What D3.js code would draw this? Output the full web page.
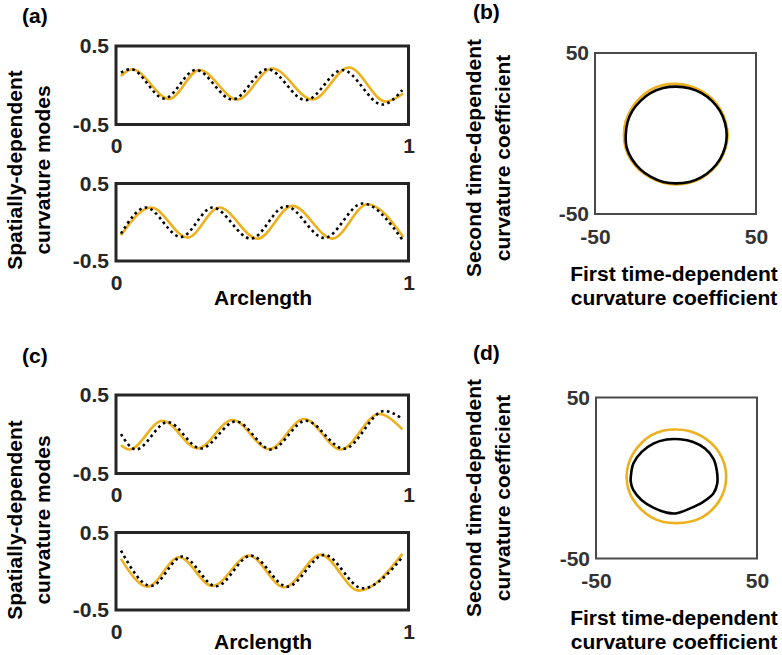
<!DOCTYPE html>
<html>
<head>
<meta charset="utf-8">
<script src="https://cdn.jsdelivr.net/npm/d3@7"></script>
<style>
  body { margin: 0; background: #fff; }
  svg { display: block; }
</style>
</head>
<body>
<script>
// ---- Spatial curvature modes (arclength vs. mode amplitude) ----
// Panel (a), first mode
const aMode1GoldArc = [0.017, 0.055, 0.182, 0.285, 0.415, 0.535, 0.672, 0.797, 0.922, 0.982];
const aMode1Gold    = [0.118, 0.204, -0.173, 0.195, -0.182, 0.213, -0.182, 0.226, -0.208, -0.105];
const aMode1DotArc  = [0.017, 0.051, 0.165, 0.273, 0.398, 0.518, 0.649, 0.774, 0.911, 0.979];
const aMode1Dot     = [0.162, 0.204, -0.169, 0.195, -0.182, 0.204, -0.191, 0.195, -0.246, -0.062];
// Panel (a), second mode
const aMode2GoldArc = [0.017, 0.120, 0.245, 0.353, 0.484, 0.603, 0.740, 0.860, 0.982];
const aMode2Gold    = [-0.168, 0.190, -0.198, 0.190, -0.211, 0.211, -0.211, 0.233, -0.190];
const aMode2DotArc  = [0.017, 0.102, 0.222, 0.330, 0.461, 0.581, 0.712, 0.843, 0.979];
const aMode2Dot     = [-0.147, 0.190, -0.190, 0.190, -0.211, 0.207, -0.203, 0.242, -0.225];
// Panel (c), first mode
const cMode1GoldArc = [0.017, 0.046, 0.159, 0.279, 0.398, 0.524, 0.643, 0.769, 0.899, 0.979];
const cMode1Gold    = [-0.139, -0.194, 0.172, -0.181, 0.181, -0.190, 0.194, -0.194, 0.258, 0.062];
const cMode1DotArc  = [0.017, 0.068, 0.176, 0.290, 0.410, 0.530, 0.649, 0.780, 0.917, 0.979];
const cMode1Dot     = [0.002, -0.194, 0.155, -0.181, 0.164, -0.194, 0.172, -0.185, 0.296, 0.198];
// Panel (c), second mode
const cMode2GoldArc = [0.017, 0.108, 0.216, 0.330, 0.455, 0.575, 0.700, 0.831, 0.979];
const cMode2Gold    = [0.160, -0.198, 0.181, -0.190, 0.202, -0.207, 0.211, -0.250, 0.224];
const cMode2DotArc  = [0.017, 0.120, 0.227, 0.342, 0.461, 0.586, 0.712, 0.843, 0.979];
const cMode2Dot     = [0.267, -0.190, 0.190, -0.194, 0.202, -0.198, 0.211, -0.220, 0.181];

// ---- Time-dependent coefficient trajectories (closed loops) ----
const bGoldX  = [32.4, 31.1, 27.9, 22.8, 16.0, 8.2, 0.0, -8.2, -15.9, -22.4, -27.6, -31.0, -32.0, -31.0, -27.6, -22.2, -15.5, -7.8, 0.5, 8.8, 16.4, 22.9, 27.9, 31.2];
const bGoldY  = [-1.0, 7.3, 14.9, 21.4, 26.5, 29.7, 30.8, 30.0, 27.0, 21.8, 15.0, 7.4, -1.0, -9.2, -16.5, -22.8, -27.4, -30.6, -31.6, -30.6, -27.5, -22.6, -16.3, -8.8];
const bBlackX = [31.8, 30.7, 27.6, 22.6, 16.2, 8.6, 0.5, -7.7, -15.3, -21.7, -26.7, -29.8, -30.9, -30.3, -27.0, -21.8, -15.2, -7.6, 0.5, 8.6, 16.2, 22.6, 27.6, 30.7];
const bBlackY = [-1.5, 6.8, 14.1, 20.3, 25.1, 28.1, 29.1, 28.2, 25.2, 20.3, 14.2, 7.0, -1.0, -8.8, -16.0, -22.3, -27.0, -30.1, -31.0, -30.1, -27.1, -22.3, -16.1, -8.8];

const dGoldX  = [30.8, 29.7, 26.6, 21.7, 15.3, 7.8, -0.5, -8.5, -15.8, -21.9, -26.8, -29.9, -31.0, -30.0, -26.9, -21.9, -15.5, -8.0, 0.0, 8.2, 15.6, 21.8, 26.8, 30.0];
const dGoldY  = [2.0, 8.6, 15.6, 21.6, 26.2, 29.2, 30.1, 29.3, 26.4, 21.6, 15.4, 8.4, 1.0, -6.6, -13.5, -19.6, -24.4, -27.3, -28.0, -27.2, -24.6, -20.0, -13.8, -6.2];
const dBlackX = [-28.4, -26.8, -21.6, -14.4, -6.1, 2.2, 10.4, 17.7, 22.9, 25.0, 25.3, 22.9, 16.6, 8.4, 0.1, -6.1, -14.4, -21.6, -26.8, -28.4];
const dBlackY = [0.7, 9.0, 16.2, 21.4, 23.9, 24.1, 22.4, 18.3, 12.1, 4.8, -3.4, -9.6, -14.8, -18.9, -21.9, -21.5, -18.4, -13.8, -7.6, -2.4];

// ---- Axis ticks ----
const modeTicks = [-0.5, 0.5];
const modeTickLabels = ["-0.5", "0.5"];
const arcTicks = [0, 1];
const arcTickLabels = ["0", "1"];
const coefTicks = [-50, 50];
const coefTickLabels = ["-50", "50"];

// ---- Figure ----
const W = 782, H = 655;
const GOLD = "#EDB120", INK = "#262626", FRAME = "#4a4a4a";
const FS = 21;

const svg = d3.select("body").append("svg")
  .attr("width", W).attr("height", H)
  .style("font-family", "'Liberation Sans', Arial, Helvetica, sans-serif")
  .style("font-weight", "bold");

const zip = (xs, ys) => xs.map((v, i) => [v, ys[i]]);

function styleAxis(g, color) {
  g.attr("font-size", null).attr("font-family", null);
  g.select(".domain").remove();
  g.selectAll(".tick line").remove();
  g.selectAll(".tick text").attr("fill", color).style("font-size", FS + "px");
}

// one arclength / mode-amplitude box with a gold solid curve and a black dotted curve
function modePanel(box, gold, dot) {
  const x = d3.scaleLinear().domain([0, 1]).range([box.x0, box.x1]);
  const y = d3.scaleLinear().domain([-0.5, 0.5]).range([box.y1, box.y0]);
  const g = svg.append("g");

  g.append("g").attr("transform", `translate(${box.x0},0)`)
    .call(d3.axisLeft(y).tickValues(modeTicks).tickSize(0).tickPadding(7)
      .tickFormat((d, i) => modeTickLabels[i]))
    .call(ax => styleAxis(ax, INK));
  g.append("g").attr("transform", `translate(0,${box.y1})`)
    .call(d3.axisBottom(x).tickValues(arcTicks).tickSize(0).tickPadding(14)
      .tickFormat((d, i) => arcTickLabels[i]))
    .call(ax => styleAxis(ax, INK));

  const line = d3.line().x(d => x(d[0])).y(d => y(d[1])).curve(d3.curveMonotoneX);
  g.append("path").attr("d", line(gold)).attr("fill", "none")
    .attr("stroke", GOLD).attr("stroke-width", 2.6);
  g.append("path").attr("d", line(dot)).attr("fill", "none")
    .attr("stroke", "#000").attr("stroke-width", 2.6)
    .attr("stroke-dasharray", "2.6,3.4");

  g.append("rect").attr("x", box.x0).attr("y", box.y0)
    .attr("width", box.x1 - box.x0).attr("height", box.y1 - box.y0)
    .attr("fill", "none").attr("stroke", INK).attr("stroke-width", 3);
}

// one coefficient phase-portrait box with a gold loop and a black loop
function loopPanel(box, gold, black) {
  const x = d3.scaleLinear().domain([-50, 50]).range([box.x0, box.x1]);
  const y = d3.scaleLinear().domain([-50, 50]).range([box.y1, box.y0]);
  const g = svg.append("g");

  g.append("g").attr("transform", `translate(${box.x0},0)`)
    .call(d3.axisLeft(y).tickValues(coefTicks).tickSize(0).tickPadding(6)
      .tickFormat((d, i) => coefTickLabels[i]))
    .call(ax => styleAxis(ax, "#333"));
  g.append("g").attr("transform", `translate(0,${box.y1})`)
    .call(d3.axisBottom(x).tickValues(coefTicks).tickSize(0).tickPadding(15)
      .tickFormat((d, i) => coefTickLabels[i]))
    .call(ax => styleAxis(ax, "#333"));

  const loop = d3.line().x(d => x(d[0])).y(d => y(d[1])).curve(d3.curveCatmullRomClosed);
  g.append("path").attr("d", loop(gold)).attr("fill", "none")
    .attr("stroke", GOLD).attr("stroke-width", 2.6);
  g.append("path").attr("d", loop(black)).attr("fill", "none")
    .attr("stroke", "#000").attr("stroke-width", 2.6);

  g.append("rect").attr("x", box.x0).attr("y", box.y0)
    .attr("width", box.x1 - box.x0).attr("height", box.y1 - box.y0)
    .attr("fill", "none").attr("stroke", FRAME).attr("stroke-width", 2);
}

function text(x, y, s, anchor = "middle", rotate = false, size = FS) {
  const t = svg.append("text").attr("text-anchor", anchor)
    .style("font-size", size + "px").attr("fill", "#000").text(s);
  if (rotate) t.attr("transform", `translate(${x},${y}) rotate(-90)`);
  else t.attr("x", x).attr("y", y);
  return t;
}

// left column: spatial modes
modePanel({x0: 116, x1: 408.5, y0: 46, y1: 124.5}, zip(aMode1GoldArc, aMode1Gold), zip(aMode1DotArc, aMode1Dot));
modePanel({x0: 116, x1: 408.5, y0: 183.5, y1: 261}, zip(aMode2GoldArc, aMode2Gold), zip(aMode2DotArc, aMode2Dot));
modePanel({x0: 116, x1: 408.5, y0: 395, y1: 473.5}, zip(cMode1GoldArc, cMode1Gold), zip(cMode1DotArc, cMode1Dot));
modePanel({x0: 116, x1: 408.5, y0: 532.5, y1: 610}, zip(cMode2GoldArc, cMode2Gold), zip(cMode2DotArc, cMode2Dot));

// right column: coefficient loops
loopPanel({x0: 595, x1: 756, y0: 53, y1: 214}, zip(bGoldX, bGoldY), zip(bBlackX, bBlackY));
loopPanel({x0: 596, x1: 757, y0: 397.5, y1: 558.5}, zip(dGoldX, dGoldY), zip(dBlackX, dBlackY));

// panel letters
text(22, 23, "(a)", "start");
text(473, 19, "(b)", "start");
text(22, 363, "(c)", "start");
text(473, 360, "(d)", "start");

// axis titles, left column
[170, 520].forEach(cy => {
  text(22, cy, "Spatially-dependent", "middle", true);
  text(50, cy, "curvature modes", "middle", true);
});
text(263, 305, "Arclength");
text(263, 649, "Arclength");

// axis titles, right column
[[158, 281, 305], [498, 625, 649]].forEach(([cy, l1, l2]) => {
  text(481, cy, "Second time-dependent", "middle", true);
  text(510, cy, "curvature coefficient", "middle", true);
  text(674, l1, "First time-dependent");
  text(674, l2, "curvature coefficient");
});
</script>
</body>
</html>
